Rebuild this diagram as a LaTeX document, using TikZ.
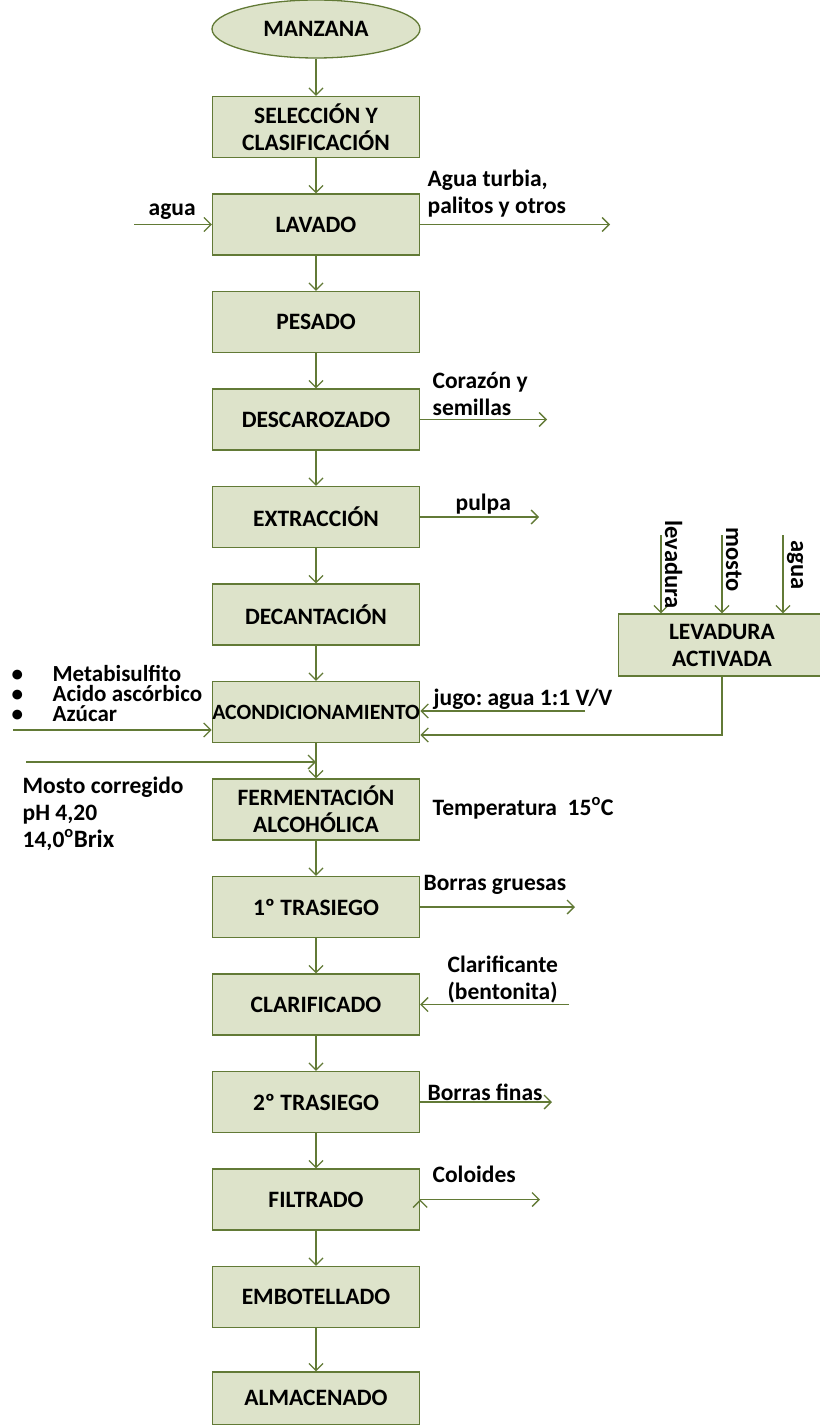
\documentclass[tikz,border=0pt]{standalone}
\usepackage{fontspec}
\setmainfont{Carlito}
\usetikzlibrary{arrows.meta,shapes.geometric}
\definecolor{boxfill}{RGB}{221,227,202}
\definecolor{boxline}{RGB}{98,122,54}
\frenchspacing

\begin{document}
\begin{tikzpicture}[x=1pt,y=-1pt,>={Straight Barb[length=7pt,width=14pt]},
  line width=1.3pt,node distance=97.5pt,
  flow/.style={draw=boxline,->},
  proc/.style={rectangle,draw=boxline,fill=boxfill,minimum width=207pt,minimum height=61pt,
    inner sep=0pt,align=center,font=\bfseries\fontsize{23.5}{27}\selectfont},
  lbl/.style={anchor=base west,inner sep=0pt,align=left,font=\bfseries\fontsize{23.5}{27}\selectfont},
  vlbl/.style={lbl,rotate=-90,font=\bfseries\fontsize{24.5}{27}\selectfont}]

  \useasboundingbox (0,0) rectangle (819,1426);

  % main line
  \node[proc,ellipse,minimum width=208pt,minimum height=58pt] (manz) at (316,29) {MANZANA};
  \node[proc] (sel) at (316,127) {SELECCIÓN Y\\CLASIFICACIÓN};
  \node[proc] (lav) [below of=sel] {LAVADO};
  \node[proc] (pes) [below of=lav] {PESADO};
  \node[proc] (desc) [below of=pes] {DESCAROZADO};
  \node[proc] (ext) [below of=desc] {EXTRACCIÓN};
  \node[proc] (dec) [below of=ext] {DECANTACIÓN};
  \node[proc,font=\bfseries\fontsize{21.8}{27}\selectfont] (acond) [below of=dec] {ACONDICIONAMIENTO};
  \node[proc] (ferm) [below of=acond] {FERMENTACIÓN\\ALCOHÓLICA};
  \node[proc] (tras1) [below of=ferm] {1º TRASIEGO};
  \node[proc] (clar) [below of=tras1] {CLARIFICADO};
  \node[proc] (tras2) [below of=clar] {2º TRASIEGO};
  \node[proc] (filt) [below of=tras2] {FILTRADO};
  \node[proc] (emb) [below of=filt] {EMBOTELLADO};
  \node[proc,minimum height=52.5pt] (alm) at (316,1398.25) {ALMACENADO};
  \node[proc,minimum height=62pt] (lev) at (722,645) {LEVADURA\\ACTIVADA};

  \path[flow]
    (manz) edge (sel)
    (sel) edge (lav)
    (lav) edge (pes)
    (pes) edge (desc)
    (desc) edge (ext)
    (ext) edge (dec)
    (dec) edge (acond)
    (acond) edge (ferm)
    (ferm) edge (tras1)
    (tras1) edge (clar)
    (clar) edge (tras2)
    (tras2) edge (filt)
    (filt) edge (emb)
    (emb) edge (alm);

  % side streams
  \coordinate (aguaIn) at (134,224.5);
  \coordinate (turbiaOut) at (610,224.5);
  \coordinate (semOut) at (547,419.5);
  \coordinate (pulpaOut) at (539,517);
  \coordinate (levIn) at (661,535);
  \coordinate (mostoIn) at (722,535);
  \coordinate (aguaLevIn) at (783,535);
  \coordinate (jugoIn) at (585,711);
  \coordinate (levRet) at (722,735);
  \coordinate (aditIn) at (13,730);
  \coordinate (corrIn) at (26,762);
  \coordinate (gruesasOut) at (575,907);
  \coordinate (bentIn) at (569,1004.5);
  \coordinate (finasOut) at (552,1102);
  \coordinate (coloOut) at (540,1199.5);

  \path[flow]
    (aguaIn) edge (lav.west)
    (lav.east) edge (turbiaOut)
    (desc.east) edge (semOut)
    (ext.east) edge (pulpaOut)
    (levIn) edge (levIn |- lev.north)
    (mostoIn) edge (mostoIn |- lev.north)
    (aguaLevIn) edge (aguaLevIn |- lev.north)
    (jugoIn) edge (jugoIn -| acond.east)
    (aditIn) edge (aditIn -| acond.west)
    (corrIn) edge (corrIn -| acond.south)
    (tras1.east) edge (gruesasOut)
    (bentIn) edge (clar.east)
    (tras2.east) edge (finasOut)
    (filt.east) edge (coloOut);
  \path[flow] (lev.south) -- (levRet) -- (levRet -| acond.east);

  % labels
  \node[lbl] (tAgua) at (148,215) {agua};
  \node[lbl] (tTurbia) at (427,213) {Agua turbia,\\palitos y otros};
  \node[lbl] (tSem) at (432,415) {Corazón y\\semillas};
  \node[lbl] (tPulpa) at (455,510) {pulpa};
  \node[vlbl] (tLevadura) at (665,520) {levadura};
  \node[vlbl] (tMosto) at (726,527) {mosto};
  \node[vlbl] (tAguaLev) at (791,540) {agua};
  \node[lbl] (tJugo) at (433,705) {jugo: agua 1:1 V/V};
  \node[lbl,font=\bfseries\fontsize{23}{20}\selectfont] (tAdit) at (11,721)
    {\makebox[41pt][l]{•}Metabisulfito\\\makebox[41pt][l]{•}Acido ascórbico\\\makebox[41pt][l]{•}Azúcar};
  \node[lbl] (tCorr) at (22,847)
    {Mosto corregido\\pH 4,20\\14,0\textsuperscript{o}{\fontsize{25}{27}\selectfont Brix}};
  \node[lbl] (tTemp) at (432,815) {Temperatura\ \ 15\textsuperscript{o}{\fontsize{24}{27}\selectfont C}};
  \node[lbl] (tGruesas) at (423,890) {Borras gruesas};
  \node[lbl] (tBent) at (447,999) {Clarificante\\(bentonita)};
  \node[lbl] (tFinas) at (427,1100) {Borras finas};
  \node[lbl] (tColo) at (432,1182) {Coloides};
\end{tikzpicture}
\end{document}
